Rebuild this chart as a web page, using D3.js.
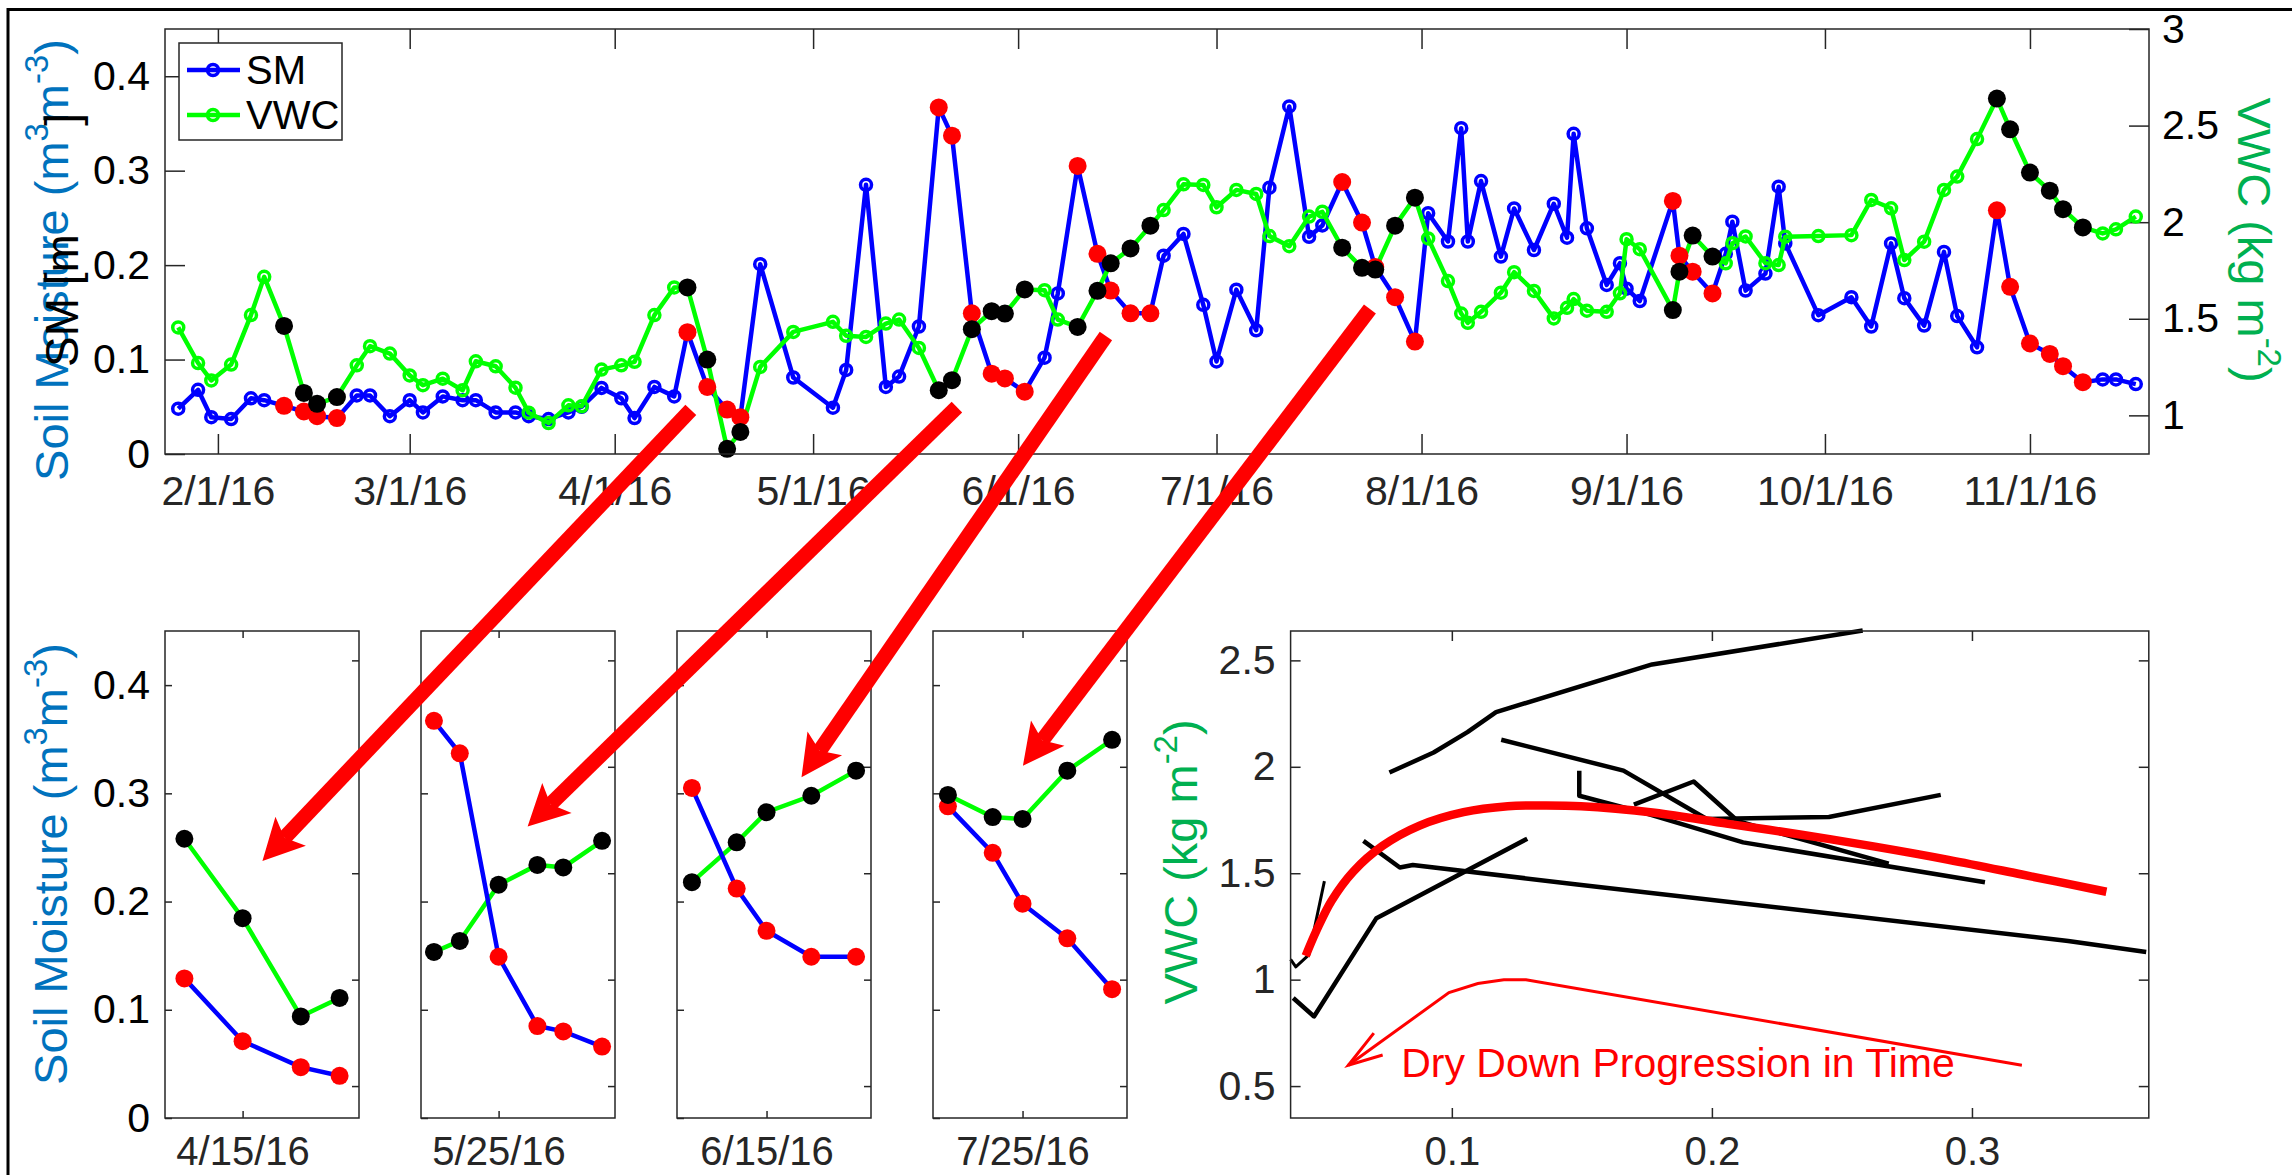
<!DOCTYPE html>
<html>
<head>
<meta charset="utf-8">
<script src="https://cdn.jsdelivr.net/npm/d3@7"></script>
<style>
  body { margin: 0; background: #fff; }
</style>
</head>
<body>
<svg id="fig"></svg>
<script>
// ---- data ----
const dates = [
  "2016-01-26","2016-01-29","2016-01-31","2016-02-03","2016-02-06","2016-02-08","2016-02-11","2016-02-14","2016-02-16","2016-02-19",
  "2016-02-22","2016-02-24","2016-02-27","2016-03-01","2016-03-03","2016-03-06","2016-03-09","2016-03-11","2016-03-14","2016-03-17",
  "2016-03-19","2016-03-22","2016-03-25","2016-03-27","2016-03-30","2016-04-02","2016-04-04","2016-04-07","2016-04-10","2016-04-12",
  "2016-04-15","2016-04-18","2016-04-20","2016-04-23","2016-04-28","2016-05-04","2016-05-06","2016-05-09","2016-05-12","2016-05-14",
  "2016-05-17","2016-05-20","2016-05-22","2016-05-25","2016-05-28","2016-05-30","2016-06-02","2016-06-05","2016-06-07","2016-06-10",
  "2016-06-13","2016-06-15","2016-06-18","2016-06-21","2016-06-23","2016-06-26","2016-06-29","2016-07-01","2016-07-04","2016-07-07",
  "2016-07-09","2016-07-12","2016-07-15","2016-07-17","2016-07-20","2016-07-23","2016-07-25","2016-07-28","2016-07-31","2016-08-02",
  "2016-08-05","2016-08-07","2016-08-08","2016-08-10","2016-08-13","2016-08-15","2016-08-18","2016-08-21","2016-08-23","2016-08-24",
  "2016-08-26","2016-08-29","2016-08-31","2016-09-01","2016-09-03","2016-09-08","2016-09-09","2016-09-11","2016-09-14","2016-09-16",
  "2016-09-17","2016-09-19","2016-09-22","2016-09-24","2016-09-25","2016-09-30","2016-10-05","2016-10-08","2016-10-11","2016-10-13",
  "2016-10-16","2016-10-19","2016-10-21","2016-10-24","2016-10-27","2016-10-29","2016-11-01","2016-11-04","2016-11-06","2016-11-09",
  "2016-11-12","2016-11-14","2016-11-17"
];
const smValues = [
  0.048,0.068,0.039,0.037,0.059,0.057,0.051,0.045,0.040,0.038,
  0.062,0.062,0.040,0.057,0.044,0.061,0.057,0.057,0.044,0.044,
  0.040,0.037,0.044,0.050,0.070,0.059,0.038,0.071,0.061,0.129,
  0.071,0.047,0.039,0.201,0.081,0.049,0.089,0.285,0.071,0.082,
  0.135,0.367,0.337,0.149,0.085,0.080,0.066,0.102,0.170,0.305,
  0.212,0.173,0.149,0.149,0.210,0.233,0.158,0.098,0.174,0.131,
  0.282,0.368,0.230,0.242,0.288,0.245,0.198,0.166,0.119,0.255,
  0.225,0.345,0.225,0.289,0.209,0.260,0.216,0.265,0.229,0.339,
  0.239,0.179,0.202,0.175,0.162,0.268,0.210,0.193,0.170,0.212,
  0.246,0.173,0.191,0.283,0.223,0.147,0.166,0.135,0.223,0.165,
  0.136,0.214,0.146,0.113,0.258,0.177,0.117,0.106,0.093,0.076,
  0.079,0.079,0.074
];
const vwcValues = [
  1.455,1.271,1.181,1.263,1.519,1.717,1.463,1.116,1.060,1.095,
  1.259,1.358,1.320,1.207,1.156,1.190,1.130,1.280,1.254,1.143,
  1.014,0.960,1.052,1.047,1.237,1.259,1.277,1.519,1.662,1.662,
  1.289,0.827,0.914,1.251,1.432,1.484,1.412,1.406,1.475,1.496,
  1.349,1.130,1.182,1.446,1.539,1.527,1.652,1.648,1.496,1.458,
  1.645,1.787,1.864,1.982,2.063,2.196,2.193,2.077,2.167,2.146,
  1.928,1.876,2.029,2.054,1.868,1.764,1.755,1.982,2.127,1.916,
  1.695,1.527,1.479,1.536,1.635,1.741,1.644,1.502,1.557,1.602,
  1.542,1.536,1.632,1.912,1.860,1.545,1.744,1.931,1.822,1.787,
  1.891,1.926,1.788,1.778,1.925,1.928,1.933,2.115,2.072,1.804,
  1.899,2.167,2.236,2.430,2.640,2.481,2.257,2.163,2.067,1.973,
  1.942,1.963,2.029
];
const seriesNames = ["SM", "VWC"];

// dry-down periods (first and last day)
const dryStart = ["2016-02-11","2016-04-12","2016-05-20","2016-06-10","2016-07-20","2016-09-08","2016-10-27"];
const dryEnd   = ["2016-02-19","2016-04-20","2016-06-02","2016-06-21","2016-07-31","2016-09-14","2016-11-09"];

// zoomed panels
const panelEvent = [1, 2, 3, 4];
const panelTicks = ["2016-04-15","2016-05-25","2016-06-15","2016-07-25"];
const panelStart = ["2016-04-11","2016-05-19","2016-06-09","2016-07-19"];
const panelEnd   = ["2016-04-21","2016-06-03","2016-06-22","2016-08-01"];

// fitted dry-down curve (SM, VWC)
const fitSM  = [0.0438,0.048,0.0537,0.0621,0.0734,0.0876,0.1045,0.1215,0.1314,0.1497,0.178,0.2062,0.2345,0.2627,0.291,0.3192,0.3517];
const fitVWC = [1.112,1.232,1.370,1.508,1.629,1.724,1.787,1.815,1.818,1.815,1.784,1.732,1.681,1.625,1.563,1.494,1.413];

// "progression in time" note, in data units of the scatter
const noteSM  = [0.3192,0.1285,0.120,0.110,0.0989,0.0602];
const noteVWC = [0.598,1.000,1.000,0.982,0.939,0.598];
const noteHeadSM  = [0.070,0.0602,0.0734];
const noteHeadVWC = [0.749,0.598,0.646];
const noteText = "Dry Down Progression in Time";

// axis limits and ticks
const timeLimits = ["2016-01-24","2016-11-19"];
const monthTicks = ["2016-02-01","2016-03-01","2016-04-01","2016-05-01","2016-06-01",
                    "2016-07-01","2016-08-01","2016-09-01","2016-10-01","2016-11-01"];
const smLimits = [0, 0.45];
const smTicks = [0, 0.1, 0.2, 0.3, 0.4];
const vwcLimits = [0.8, 3];
const vwcTicks = [1, 1.5, 2, 2.5, 3];
const vwcZoomLimits = [0.35, 2.638];
const vwcZoomTicks = [0.5, 1, 1.5, 2, 2.5];
const scatterSmLimits = [0.038, 0.368];
const scatterSmTicks = [0.1, 0.2, 0.3];

// ---- drawing ----
const W = 2292, H = 1175;
const FONT = "'Liberation Sans', Arial, Helvetica, sans-serif";
const AX = "#262626";
const BLUE = "#0000ff", GREEN = "#00ff00", RED = "#ff0000";
const LBL_BLUE = "#0072BD", LBL_GREEN = "#00B050";
const LW = 4.5;

const parse = d3.timeParse("%Y-%m-%d");
const fmtDate = d3.timeFormat("%-m/%-d/%y");
const obs = dates.map((d, i) => ({ date: parse(d), sm: smValues[i], vwc: vwcValues[i] }));
const events = dryStart.map((s, i) => {
  const a = parse(s), b = parse(dryEnd[i]);
  return obs.filter(o => o.date >= a && o.date <= b);
});
const dryPts = events.flat();

const svg = d3.select("#fig").attr("width", W).attr("height", H)
  .attr("font-family", FONT);
svg.append("rect").attr("width", W).attr("height", H).attr("fill", "#fff");

function styleAxis(g, size, color) {
  g.attr("font-family", FONT).attr("font-size", size);
  g.select(".domain").remove();
  g.selectAll(".tick line").attr("stroke", AX).attr("stroke-width", 1.5);
  g.selectAll(".tick text").attr("fill", color);
}

// text with superscripts: parts = [[string, isSup], ...]
function label(x, y, rot, color, size, parts, anchor) {
  const t = svg.append("text")
    .attr("transform", `translate(${x},${y}) rotate(${rot})`)
    .attr("text-anchor", anchor || "middle")
    .attr("font-size", size).attr("fill", color);
  const lift = size * 0.42;
  let up = false;
  parts.forEach(([s, sup]) => {
    const ts = t.append("tspan").text(s);
    if (sup && !up) { ts.attr("dy", -lift).attr("font-size", size * 0.7); up = true; }
    else if (sup) { ts.attr("font-size", size * 0.7); }
    else if (up) { ts.attr("dy", lift); up = false; }
  });
  return t;
}

// ===== top time series =====
const T = { l: 165, r: 2149, t: 29, b: 454 };
const x = d3.scaleTime().domain(timeLimits.map(parse)).range([T.l, T.r]);
const ySM = d3.scaleLinear().domain(smLimits).range([T.b, T.t]);
const yVWC = d3.scaleLinear().domain(vwcLimits).range([T.b, T.t]);

const tsPlot = svg.append("g");
tsPlot.append("g").attr("transform", `translate(0,${T.b})`)
  .call(d3.axisBottom(x).tickValues(monthTicks.map(parse)).tickFormat(fmtDate)
    .tickSizeInner(-20).tickSizeOuter(0).tickPadding(22))
  .call(g => styleAxis(g, 41, AX));
tsPlot.append("g").attr("transform", `translate(0,${T.t})`)
  .call(d3.axisTop(x).tickValues(monthTicks.map(parse)).tickFormat("")
    .tickSizeInner(-20).tickSizeOuter(0))
  .call(g => styleAxis(g, 41, AX));
tsPlot.append("g").attr("transform", `translate(${T.l},0)`)
  .call(d3.axisLeft(ySM).tickValues(smTicks).tickFormat(d => String(d))
    .tickSizeInner(-20).tickSizeOuter(0).tickPadding(15))
  .call(g => styleAxis(g, 41, "#000"));
tsPlot.append("g").attr("transform", `translate(${T.r},0)`)
  .call(d3.axisRight(yVWC).tickValues(vwcTicks).tickFormat(d => String(d))
    .tickSizeInner(-20).tickSizeOuter(0).tickPadding(13))
  .call(g => styleAxis(g, 41, "#000"));

tsPlot.append("path").datum(obs)
  .attr("d", d3.line().x(d => x(d.date)).y(d => ySM(d.sm)))
  .attr("fill", "none").attr("stroke", BLUE).attr("stroke-width", LW).attr("stroke-linejoin", "round");
tsPlot.append("g").selectAll("circle").data(obs).join("circle")
  .attr("cx", d => x(d.date)).attr("cy", d => ySM(d.sm)).attr("r", 5.5)
  .attr("fill", "none").attr("stroke", BLUE).attr("stroke-width", 3.5);
tsPlot.append("path").datum(obs)
  .attr("d", d3.line().x(d => x(d.date)).y(d => yVWC(d.vwc)))
  .attr("fill", "none").attr("stroke", GREEN).attr("stroke-width", LW).attr("stroke-linejoin", "round");
tsPlot.append("g").selectAll("circle").data(obs).join("circle")
  .attr("cx", d => x(d.date)).attr("cy", d => yVWC(d.vwc)).attr("r", 5.5)
  .attr("fill", "none").attr("stroke", GREEN).attr("stroke-width", 3.5);
tsPlot.append("g").selectAll("circle").data(dryPts).join("circle")
  .attr("cx", d => x(d.date)).attr("cy", d => ySM(d.sm)).attr("r", 9).attr("fill", RED);
tsPlot.append("g").selectAll("circle").data(dryPts).join("circle")
  .attr("cx", d => x(d.date)).attr("cy", d => yVWC(d.vwc)).attr("r", 9).attr("fill", "#000");

tsPlot.append("rect").attr("x", T.l).attr("y", T.t).attr("width", T.r - T.l).attr("height", T.b - T.t)
  .attr("fill", "none").attr("stroke", AX).attr("stroke-width", 1.5);

// legend
const leg = tsPlot.append("g");
leg.append("rect").attr("x", 179).attr("y", 43).attr("width", 163).attr("height", 97)
  .attr("fill", "#fff").attr("stroke", AX).attr("stroke-width", 1.5);
seriesNames.forEach((name, i) => {
  const cy = 70 + i * 45, col = i === 0 ? BLUE : GREEN;
  leg.append("line").attr("x1", 187).attr("x2", 240).attr("y1", cy).attr("y2", cy)
    .attr("stroke", col).attr("stroke-width", LW);
  leg.append("circle").attr("cx", 213).attr("cy", cy).attr("r", 5.5)
    .attr("fill", "none").attr("stroke", col).attr("stroke-width", 3.5);
  leg.append("text").attr("x", 246).attr("y", cy + 14).attr("font-size", 40).attr("fill", "#000").text(name);
});

// axis labels of the top plot
label(68, 260, -90, LBL_BLUE, 47, [["Soil Moisture (m", false], ["3", true], ["m", false], ["-3", true], [")", false]]);
svg.append("text").attr("transform", "translate(78,367) rotate(-90)").attr("text-anchor", "start")
  .attr("font-size", 46).attr("fill", "#000").text("SM [m");
svg.append("text").attr("transform", "translate(78,113) rotate(-90)").attr("text-anchor", "end")
  .attr("font-size", 46).attr("fill", "#000").text("]");
label(2238, 240, 90, LBL_GREEN, 47, [["VWC (kg m", false], ["-2", true], [")", false]]);

// ===== zoomed dry-down panels =====
const P = { l: 165, step: 256, w: 194, t: 631, b: 1118 };
const pySM = d3.scaleLinear().domain(smLimits).range([P.b, P.t]);
const pyVWC = d3.scaleLinear().domain(vwcZoomLimits).range([P.b, P.t]);

panelTicks.forEach((tick, i) => {
  const left = P.l + i * P.step;
  const px = d3.scaleTime().domain([parse(panelStart[i]), parse(panelEnd[i])]).range([left, left + P.w]);
  const pts = events[panelEvent[i]];
  const g = svg.append("g");

  g.append("g").attr("transform", `translate(0,${P.b})`)
    .call(d3.axisBottom(px).tickValues([parse(tick)]).tickFormat(fmtDate)
      .tickSizeInner(-7).tickSizeOuter(0).tickPadding(19))
    .call(a => styleAxis(a, 40, AX));
  g.append("g").attr("transform", `translate(0,${P.t})`)
    .call(d3.axisTop(px).tickValues([parse(tick)]).tickFormat("").tickSizeInner(-7).tickSizeOuter(0))
    .call(a => styleAxis(a, 41, AX));
  g.append("g").attr("transform", `translate(${left},0)`)
    .call(d3.axisLeft(pySM).tickValues(smTicks).tickFormat(i === 0 ? (d => String(d)) : "")
      .tickSizeInner(-7).tickSizeOuter(0).tickPadding(15))
    .call(a => styleAxis(a, 41, "#000"));
  g.append("g").attr("transform", `translate(${left + P.w},0)`)
    .call(d3.axisRight(pyVWC).tickValues(vwcZoomTicks).tickFormat("").tickSizeInner(-7).tickSizeOuter(0))
    .call(a => styleAxis(a, 41, "#000"));

  g.append("path").datum(pts)
    .attr("d", d3.line().x(d => px(d.date)).y(d => pyVWC(d.vwc)))
    .attr("fill", "none").attr("stroke", GREEN).attr("stroke-width", LW);
  g.append("path").datum(pts)
    .attr("d", d3.line().x(d => px(d.date)).y(d => pySM(d.sm)))
    .attr("fill", "none").attr("stroke", BLUE).attr("stroke-width", LW);
  g.append("g").selectAll("circle").data(pts).join("circle")
    .attr("cx", d => px(d.date)).attr("cy", d => pySM(d.sm)).attr("r", 9).attr("fill", RED);
  g.append("g").selectAll("circle").data(pts).join("circle")
    .attr("cx", d => px(d.date)).attr("cy", d => pyVWC(d.vwc)).attr("r", 9).attr("fill", "#000");

  g.append("rect").attr("x", left).attr("y", P.t).attr("width", P.w).attr("height", P.b - P.t)
    .attr("fill", "none").attr("stroke", AX).attr("stroke-width", 1.5);
});
label(67, 864, -90, LBL_BLUE, 47, [["Soil Moisture (m", false], ["3", true], ["m", false], ["-3", true], [")", false]]);

// ===== VWC vs SM scatter =====
const S = { l: 1290.6, r: 2148.8, t: 631, b: 1118 };
const sx = d3.scaleLinear().domain(scatterSmLimits).range([S.l, S.r]);
const sy = d3.scaleLinear().domain(vwcZoomLimits).range([S.b, S.t]);
const sc = svg.append("g");

sc.append("g").attr("transform", `translate(0,${S.b})`)
  .call(d3.axisBottom(sx).tickValues(scatterSmTicks).tickFormat(d => String(d))
    .tickSizeInner(-10).tickSizeOuter(0).tickPadding(19))
  .call(a => styleAxis(a, 40, AX));
sc.append("g").attr("transform", `translate(0,${S.t})`)
  .call(d3.axisTop(sx).tickValues(scatterSmTicks).tickFormat("").tickSizeInner(-10).tickSizeOuter(0))
  .call(a => styleAxis(a, 41, AX));
sc.append("g").attr("transform", `translate(${S.l},0)`)
  .call(d3.axisLeft(sy).tickValues(vwcZoomTicks).tickFormat(d => String(d))
    .tickSizeInner(-10).tickSizeOuter(0).tickPadding(15))
  .call(a => styleAxis(a, 41, AX));
sc.append("g").attr("transform", `translate(${S.r},0)`)
  .call(d3.axisRight(sy).tickValues(vwcZoomTicks).tickFormat("").tickSizeInner(-10).tickSizeOuter(0))
  .call(a => styleAxis(a, 41, AX));

const pairLine = d3.line().x(d => sx(d.sm)).y(d => sy(d.vwc));
sc.append("g").selectAll("path").data(events).join("path")
  .attr("d", pairLine).attr("fill", "none").attr("stroke", "#000")
  .attr("stroke-width", (d, i) => i === 0 ? 3 : 4.5).attr("stroke-linejoin", "round");

const fit = fitSM.map((s, i) => ({ sm: s, vwc: fitVWC[i] }));
sc.append("path").datum(fit)
  .attr("d", d3.line().curve(d3.curveCatmullRom).x(d => sx(d.sm)).y(d => sy(d.vwc)))
  .attr("fill", "none").attr("stroke", RED).attr("stroke-width", 8.5);

const note = noteSM.map((s, i) => ({ sm: s, vwc: noteVWC[i] }));
const head = noteHeadSM.map((s, i) => ({ sm: s, vwc: noteHeadVWC[i] }));
sc.append("path").datum(note).attr("d", pairLine)
  .attr("fill", "none").attr("stroke", RED).attr("stroke-width", 3);
sc.append("path").datum(head).attr("d", pairLine)
  .attr("fill", "none").attr("stroke", RED).attr("stroke-width", 3);
sc.append("text").attr("x", sx(0.0805)).attr("y", sy(0.542))
  .attr("font-size", 41).attr("fill", RED).text(noteText);

sc.append("rect").attr("x", S.l).attr("y", S.t).attr("width", S.r - S.l).attr("height", S.b - S.t)
  .attr("fill", "none").attr("stroke", AX).attr("stroke-width", 1.5);
label(1197, 862, -90, LBL_GREEN, 47, [["VWC (kg m", false], ["-2", true], [")", false]]);

// ===== big red arrows (figure-normalised annotation positions) =====
const fx = d3.scaleLinear().domain([0, 1]).range([0, W]);
const fy = d3.scaleLinear().domain([0, 1]).range([0, H]);
const arrowTail = [[0.3014, 0.3489], [0.4175, 0.3464], [0.4825, 0.2860], [0.5977, 0.2630]];
const arrowTip  = [[0.1145, 0.7328], [0.2302, 0.7035], [0.3497, 0.6614], [0.4463, 0.6517]];
const arrows = svg.append("g");
arrowTail.forEach((tl, i) => {
  const x0 = fx(tl[0]), y0 = fy(tl[1]), x1 = fx(arrowTip[i][0]), y1 = fy(arrowTip[i][1]);
  const len = Math.hypot(x1 - x0, y1 - y0), ux = (x1 - x0) / len, uy = (y1 - y0) / len;
  const hl = 41, hw = 21, notch = 32;
  const bx = x1 - ux * hl, by = y1 - uy * hl;
  const nx = x1 - ux * notch, ny = y1 - uy * notch;
  arrows.append("line").attr("x1", x0).attr("y1", y0).attr("x2", nx).attr("y2", ny)
    .attr("stroke", RED).attr("stroke-width", 15);
  arrows.append("polygon")
    .attr("points", [[x1, y1], [bx - uy * hw, by + ux * hw], [nx, ny], [bx + uy * hw, by - ux * hw]].join(" "))
    .attr("fill", RED);
});

// figure frame
svg.append("path").attr("d", `M8,${H}V9.5H${W}`).attr("fill", "none")
  .attr("stroke", "#000").attr("stroke-width", 3);
</script>
</body>
</html>
